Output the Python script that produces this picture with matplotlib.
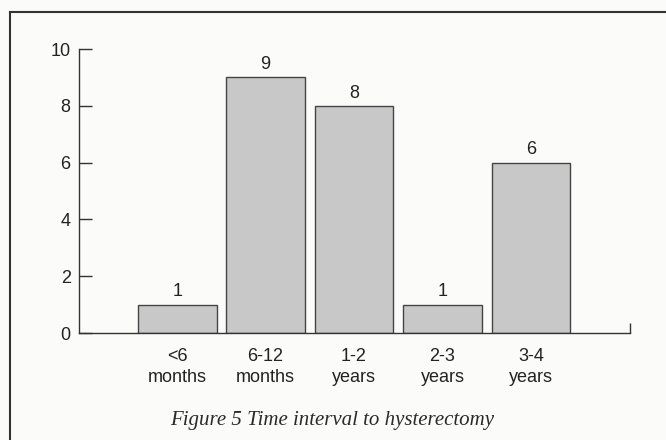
import matplotlib
matplotlib.use("Agg")
import matplotlib.pyplot as plt
from matplotlib.lines import Line2D

# Datos del grafico
categorias = ["<6\nmonths", "6-12\nmonths", "1-2\nyears", "2-3\nyears", "3-4\nyears"]
valores = [1, 9, 8, 1, 6]
titulo = "Figure 5 Time interval to hysterectomy"

plt.rcParams['font.family'] = ['Liberation Sans', 'DejaVu Sans']

fig = plt.figure(figsize=(6.66, 4.4), dpi=100, facecolor='#fbfbfa')
ax = fig.add_axes([79/666, 107/440, 551/666, 284/440])
ax.set_facecolor('none')

pos = list(range(len(valores)))
ax.bar(pos, valores, width=0.89, color='#c8c8c8', edgecolor='#444444', linewidth=1.0)
for x, v in zip(pos, valores):
    ax.annotate(str(v), (x, v), xytext=(0, 3), textcoords='offset points',
                ha='center', va='bottom', fontsize=13, color='#222222')

ax.set_xlim(-1.11, 5.12)
ax.set_ylim(0, 10)
ax.set_yticks([0, 2, 4, 6, 8, 10])
ax.tick_params(axis='y', direction='in', length=9.5, width=1.0, labelsize=13,
               pad=6, colors='#333333', labelcolor='#222222')
ax.set_xticks(pos)
ax.set_xticklabels(categorias, fontsize=13, color='#222222', linespacing=1.3)
ax.tick_params(axis='x', length=0, pad=11)
# marca al final del eje x
ax.set_xticks([5.12], minor=True)
ax.tick_params(axis='x', which='minor', direction='in', length=7, width=1.0, colors='#333333')

for s in ['top', 'right']:
    ax.spines[s].set_visible(False)
for s in ['left', 'bottom']:
    ax.spines[s].set_linewidth(1.0)
    ax.spines[s].set_color('#333333')

fig.text(332/666, 1 - 420/440, titulo, ha='center', va='center', fontsize=15,
         style='italic', family=['Liberation Serif', 'DejaVu Serif'], color='#2a2a2a')

# marco de la figura (solo arriba e izquierda)
fig.add_artist(Line2D([10/666, 1], [1 - 12/440, 1 - 12/440], transform=fig.transFigure,
                      color='#333333', linewidth=1.5))
fig.add_artist(Line2D([10/666, 10/666], [0, 1 - 12/440], transform=fig.transFigure,
                      color='#333333', linewidth=1.5))

plt.savefig('out.png', dpi=100, facecolor=fig.get_facecolor())
